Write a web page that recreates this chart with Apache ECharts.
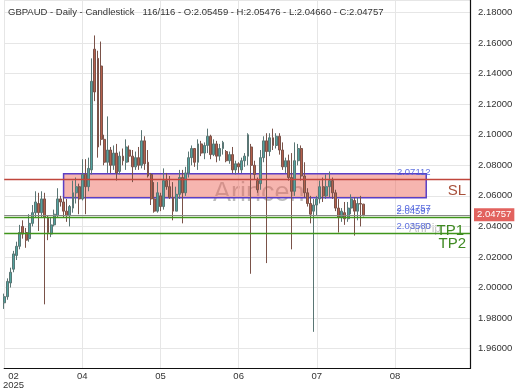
<!DOCTYPE html>
<html><head><meta charset="utf-8">
<script src="https://cdn.jsdelivr.net/npm/echarts@6/dist/echarts.min.js"></script>
<style>html,body{margin:0;padding:0;background:#fff}#c{width:520px;height:390px}</style>
</head><body><div id="c"></div>
<script>
const opens=[1.990,1.994,2.003,2.012,2.021,2.027,2.040,2.036,2.032,2.042,2.049,2.055,2.049,2.058,2.046,2.035,2.041,2.047,2.058,2.056,
2.050,2.047,2.052,2.062,2.066,2.058,2.074,2.066,2.077,2.156,2.150,2.145,2.097,2.082,2.090,2.080,2.088,2.076,2.086,2.082,
2.090,2.086,2.079,2.085,2.080,2.096,2.082,2.074,2.058,2.050,2.060,2.053,2.070,2.066,2.059,2.050,2.061,2.072,2.062,2.075,
2.085,2.091,2.082,2.094,2.088,2.093,2.099,2.087,2.094,2.086,2.091,2.089,2.083,2.087,2.077,2.081,2.077,2.083,2.086,2.092,
2.080,2.070,2.068,2.085,2.096,2.089,2.098,2.093,2.099,2.090,2.079,2.083,2.072,2.063,2.083,2.091,2.073,2.062,2.055,2.050,
2.054,2.058,2.066,2.060,2.066,2.070,2.062,2.052,2.046,2.049,2.045,2.052,2.057,2.050,2.055,2.05459];
const closes=[1.994,2.004,2.010,2.022,2.027,2.036,2.035,2.031,2.042,2.049,2.056,2.049,2.058,2.046,2.036,2.041,2.048,2.058,2.056,2.050,
2.047,2.053,2.062,2.066,2.058,2.074,2.066,2.078,2.135,2.128,2.092,2.097,2.082,2.090,2.080,2.088,2.075,2.086,2.083,2.092,
2.086,2.079,2.085,2.080,2.096,2.081,2.073,2.058,2.050,2.062,2.053,2.070,2.066,2.059,2.050,2.061,2.072,2.062,2.075,2.085,
2.091,2.082,2.094,2.088,2.093,2.099,2.087,2.094,2.086,2.091,2.095,2.083,2.087,2.077,2.081,2.079,2.083,2.086,2.100,2.080,
2.074,2.064,2.085,2.096,2.089,2.098,2.093,2.099,2.090,2.079,2.083,2.072,2.063,2.083,2.091,2.073,2.062,2.055,2.048,2.054,
2.058,2.066,2.060,2.066,2.070,2.062,2.052,2.046,2.050,2.045,2.052,2.058,2.050,2.055,2.0546,2.04757];
const lows=[1.986,1.992,2.000,2.010,2.018,2.025,2.032,2.026,2.030,2.040,2.046,2.037,2.046,1.989,2.031,2.033,2.040,2.046,2.053,2.046,
2.043,2.040,2.049,2.055,2.048,2.057,2.048,2.063,2.074,2.122,2.085,2.093,2.080,2.075,2.075,2.077,2.070,2.074,2.080,2.077,
2.082,2.069,2.077,2.077,2.078,2.077,2.072,2.054,2.049,2.049,2.050,2.051,2.064,2.058,2.044,2.050,2.058,2.042,2.060,2.072,
2.080,2.079,2.077,2.086,2.084,2.088,2.084,2.086,2.082,2.083,2.087,2.082,2.081,2.075,2.074,2.075,2.075,2.079,2.080,2.009,
2.071,2.062,2.064,2.082,2.016,2.086,2.090,2.091,2.087,2.077,2.075,2.070,2.025,2.060,2.080,2.070,2.059,2.053,2.042,1.971,
2.047,2.055,2.056,2.058,2.059,2.058,2.050,2.036,2.043,2.041,2.043,2.048,2.034,2.044,2.040,2.04660];
const highs=[1.996,2.006,2.013,2.024,2.030,2.041,2.044,2.039,2.048,2.054,2.063,2.062,2.063,2.062,2.047,2.046,2.051,2.065,2.060,2.059,
2.058,2.054,2.070,2.072,2.068,2.084,2.084,2.085,2.150,2.165,2.155,2.161,2.100,2.112,2.092,2.093,2.094,2.089,2.091,2.097,
2.093,2.090,2.089,2.092,2.103,2.099,2.090,2.075,2.069,2.069,2.062,2.078,2.075,2.073,2.069,2.066,2.077,2.077,2.079,2.089,
2.093,2.091,2.097,2.096,2.095,2.104,2.100,2.097,2.096,2.094,2.096,2.090,2.089,2.092,2.083,2.082,2.085,2.088,2.101,2.094,
2.083,2.072,2.090,2.099,2.101,2.101,2.104,2.101,2.101,2.095,2.085,2.087,2.088,2.095,2.094,2.093,2.082,2.065,2.060,2.058,
2.060,2.070,2.072,2.074,2.076,2.072,2.064,2.058,2.052,2.056,2.056,2.061,2.059,2.059,2.060,2.05476];

const totalSlots=150;
const gridLineIdx=[0,25,50,75,100,125];
const monthLabelIdx=[3,25,50,75,100,125];
const monthLabels=['02\n2025','04','05','06','07','08'];
const slLevel=2.07112, tp1Level=2.04597, tp2Level=2.03580, lastPrice=2.04757;
const zoneTop=2.0744, zoneBottom=2.0588, zoneStart=19, zoneEnd=135;
const yMin=1.947, yMax=2.1882;

const cats=[];for(let i=0;i<totalSlots;i++)cats.push(String(i));
const ohlc=opens.map((o,i)=>[o,closes[i],lows[i],highs[i]]);
const FF='Liberation Sans, Arial';

const blueLbl=(v,txt)=>[{coord:[126,v],label:{show:true,position:'insideMiddleTop',distance:1,formatter:txt,color:'rgba(75,95,220,0.9)',fontSize:9.5,fontFamily:FF}},{coord:[136,v]}];

const levelSeries=(name,v,color,w,label)=>({
  type:'line',name:name,data:[],silent:true,
  markLine:{silent:true,symbol:['none','none'],animation:false,precision:5,
    lineStyle:{color:color,width:w,type:'solid',opacity:1},
    label:label,
    data:[{yAxis:v}]}
});

const chart=echarts.init(document.getElementById('c'),null,{renderer:'canvas'});
chart.setOption({
  animation:false,
  backgroundColor:'#fff',
  title:{text:'GBPAUD - Daily - Candlestick   116/116 - O:2.05459 - H:2.05476 - L:2.04660 - C:2.04757',left:8,top:7,padding:0,
    textStyle:{fontSize:9.5,fontWeight:'normal',color:'#333',fontFamily:FF}},
  grid:{left:3,right:50,top:0,bottom:21},
  xAxis:{type:'category',data:cats,boundaryGap:false,
    axisLine:{show:true,lineStyle:{color:'#111',width:1.2}},axisTick:{show:false},
    axisLabel:{interval:(i)=>monthLabelIdx.indexOf(i)>=0,formatter:(v,i)=>{const k=monthLabelIdx.indexOf(i);return k>=0?monthLabels[k]:'';},
      color:'#333',fontSize:9.5,lineHeight:9,margin:3,fontFamily:FF},
    splitLine:{show:true,interval:(i)=>gridLineIdx.indexOf(i)>=0,lineStyle:{color:'#e6e6e6'}}},
  yAxis:{type:'value',position:'right',min:yMin,max:yMax,splitNumber:12,
    axisLine:{show:true,lineStyle:{color:'#111',width:1.2}},axisTick:{show:false},
    axisLabel:{showMinLabel:false,showMaxLabel:false,formatter:(v)=>v.toFixed(5),color:'#333',fontSize:9.5,margin:8,fontFamily:FF},
    splitLine:{show:true,lineStyle:{color:'#e6e6e6'}}},
  graphic:[
    {type:'text',left:213,top:180,silent:true,style:{text:'Arincen',fontSize:27,fill:'rgba(90,90,90,0.4)',fontFamily:FF}},
    {type:'text',left:409,top:223,silent:true,style:{text:'AriPip',fontSize:12,fill:'rgba(120,120,120,0.45)',fontFamily:FF}}
  ],
  series:[{
    type:'candlestick',data:ohlc,barWidth:2.4,
    itemStyle:{color:'#52a39f',color0:'#b4604c',borderColor:'#5a7674',borderColor0:'#7a5249',borderWidth:1},
    markArea:{silent:true,itemStyle:{color:'rgba(236,100,88,0.48)',borderColor:'#5a3fc6',borderWidth:1.5},
      data:[[{coord:[zoneStart,zoneTop]},{coord:[zoneEnd,zoneBottom]}]]},
    markLine:{silent:true,symbol:['none','none'],animation:false,precision:5,
      lineStyle:{color:'rgba(0,0,0,0)',width:0},
      data:[
        blueLbl(slLevel,'2.07112'),
        blueLbl(lastPrice,'2.04757'),
        blueLbl(tp1Level,'2.04597'),
        blueLbl(tp2Level,'2.03580')
      ]}
  },
  levelSeries('last',lastPrice,'#8a8a8a',1,{show:true,position:'end',distance:4,formatter:'2.04757',color:'#fff',backgroundColor:'#e2625e',padding:[2,3,1,3],fontSize:9.5,fontFamily:FF}),
  levelSeries('SL',slLevel,'#c0463c',1.4,{show:true,position:'insideEndBottom',distance:4,formatter:'SL',color:'#a8503a',fontSize:15,fontFamily:FF}),
  levelSeries('TP1',tp1Level,'#3f951a',1.4,{show:true,position:'insideEndBottom',distance:6,formatter:'TP1',color:'#3f8a22',fontSize:15,fontFamily:FF}),
  levelSeries('TP2',tp2Level,'#3f951a',1.4,{show:true,position:'insideEndBottom',distance:4,formatter:'TP2',color:'#3f8a22',fontSize:15,fontFamily:FF})
  ]
});
</script></body></html>
